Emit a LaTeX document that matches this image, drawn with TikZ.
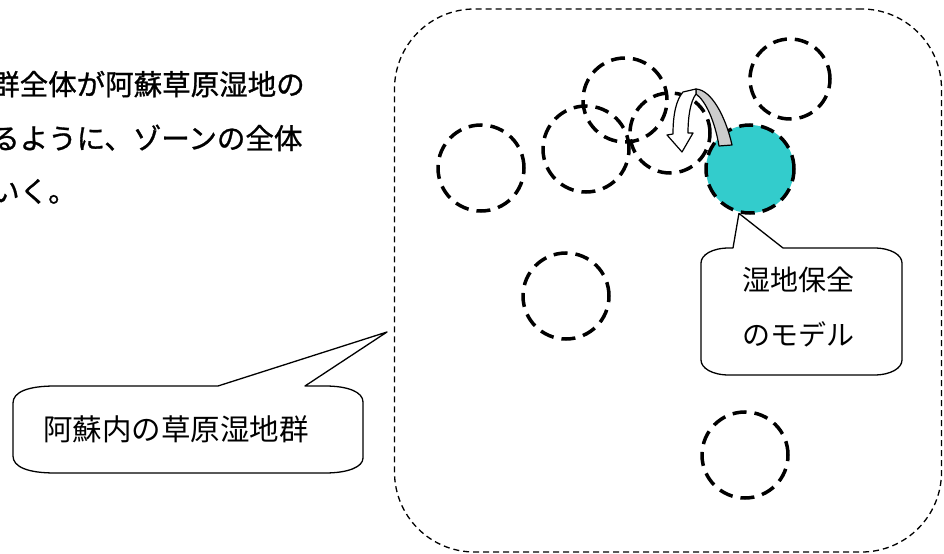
\documentclass[tikz,border=0pt]{standalone}
\usepackage{fontspec}
\newfontfamily\cjk{Noto Sans CJK JP}
\newfontfamily\cjkgrueso[FakeBold=1]{Noto Sans CJK JP}
\usepackage{tikz}
\definecolor{turquesa}{HTML}{33CCCC}
\definecolor{gris}{HTML}{CCCCCC}

\begin{document}
\begin{tikzpicture}[x=1bp,y=-1bp,
    humedal/.style={circle,draw,line width=3.5bp,dash pattern=on 14bp off 8bp,minimum size=86bp,inner sep=0pt},
    zona/.style={draw,rounded corners=80bp,line width=1.3bp,dash pattern=on 6bp off 4bp,minimum width=547bp,minimum height=543bp,inner sep=0pt},
    globo/.style={line width=1.3bp,line join=round,fill=white},
    flecha/.style={line width=1.2bp,line join=round},
    texto/.style={inner sep=0pt,font=\cjk\fontsize{28bp}{55bp}\selectfont},
    intro/.style={inner sep=0pt,anchor=base west,font=\cjkgrueso\fontsize{28.5bp}{54bp}\selectfont}]
      \useasboundingbox (0,0) rectangle (944,554);
      % Texto de arriba (cortado a la izquierda)
      \node[intro] (l1) at (-9,95)  {群全体が阿蘇草原湿地の};
      \node[intro] (l2) at (-9,149) {るように、ゾーンの全体};
      \node[intro] (l3) at (-9,202) {いく。};
      % Zona de humedales
      \node[zona] (zona) at (668,280.5) {};
      % Humedales
      \node[humedal] (h1) at (481,168) {};
      \node[humedal] (h2) at (586,149) {};
      \node[humedal,minimum size=84bp] (h3) at (625,100) {};
      \node[humedal,minimum size=80bp] (h4) at (670,133) {};
      \node[humedal,minimum size=80bp] (h5) at (790,79)  {};
      \node[humedal] (h6) at (566,296) {};
      \node[humedal] (h7) at (745,455) {};
      \node[humedal,fill=turquesa,minimum size=88bp] (modelo) at (750,169) {};
      % Flecha curva
      \draw[flecha,fill=gris] (719,146) .. controls (715,122) and (706,101) .. (696,94)
        -- (696,89) .. controls (712,90) and (726,118) .. (732,145) -- cycle;
      \draw[flecha,fill=white] (683,92) -- (696,89) -- (696,94)
        .. controls (690,102) and (688,118) .. (688,133) -- (693,133) -- (682,152)
        -- (667,135) -- (673,134) .. controls (673,115) and (676,100) .. (683,92) -- cycle;
      % Globo: grupo de humedales
      \coordinate (punta) at (387,332);
      \draw[globo] (punta) -- (305,386) -- (325,386) .. controls (348,386) and (363,392) .. (363,402)
        -- (363,458) .. controls (363,467) and (348,473) .. (325,473)
        -- (55,473) .. controls (28,473) and (13,467) .. (13,456)
        -- (13,403) .. controls (13,392) and (28,386) .. (55,386) -- (218,386) -- cycle;
      \node[texto,font=\cjk\fontsize{29.5bp}{55bp}\selectfont] (grupo) at (176,429) {阿蘇内の草原湿地群};
      % Globo: modelo
      \draw[globo] (modelo.256) -- (783,248) -- (874,248) .. controls (891,248) and (902,255) .. (902,263)
        -- (902,360) .. controls (902,368) and (891,375) .. (874,375)
        -- (729,375) .. controls (712,375) and (701,368) .. (701,360)
        -- (701,263) .. controls (701,255) and (712,248) .. (729,248) -- (733,248) -- cycle;
      \node[texto,align=center] (modelo-txt) at (798,307.5) {湿地保全\\のモデル};
    \end{tikzpicture}
\end{document}
